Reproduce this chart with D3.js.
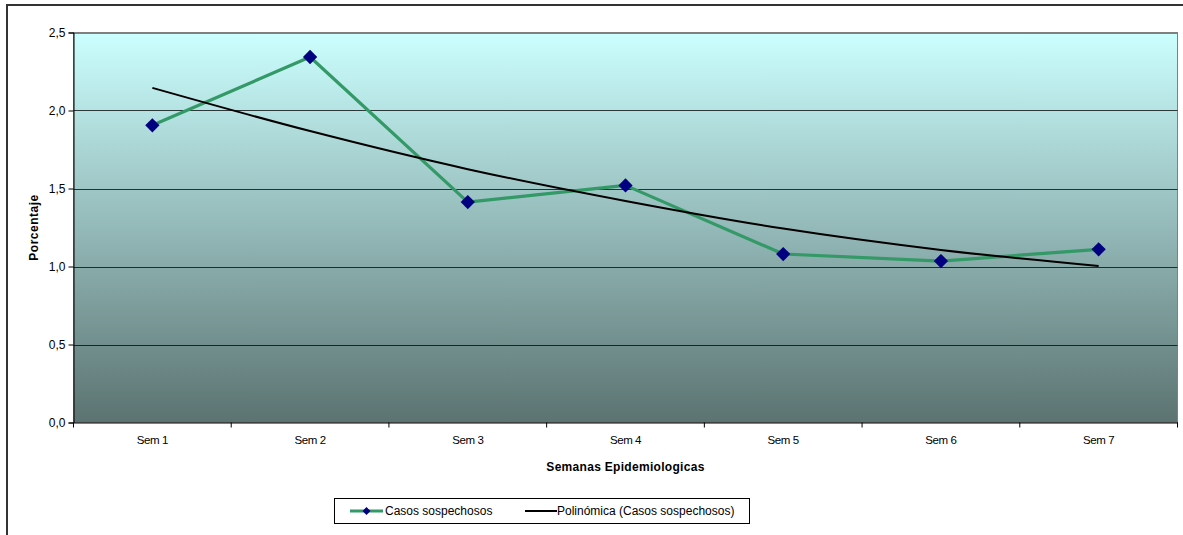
<!DOCTYPE html>
<html>
<head>
<meta charset="utf-8">
<script src="https://cdn.jsdelivr.net/npm/d3@7"></script>
<style>
  html, body { margin: 0; padding: 0; background: #fff; }
  svg { display: block; font-family: "Liberation Sans", Arial, sans-serif; }
</style>
</head>
<body>
<div id="chart"></div>
<script>
// datos del gráfico
const semanas = ['Sem 1', 'Sem 2', 'Sem 3', 'Sem 4', 'Sem 5', 'Sem 6', 'Sem 7'];
const casosSospechosos = [1.905, 2.343, 1.413, 1.520, 1.080, 1.035, 1.110];
// tendencia polinómica
const polinomica = [2.145, 1.868, 1.624, 1.420, 1.243, 1.106, 1.003];
const yTicks = [0, 0.5, 1.0, 1.5, 2.0, 2.5];

const width = 1183;
const height = 535;
const margin = { left: 73.5, top: 32.5, right: 1177.5, bottom: 422.5 };

const svg = d3.select('#chart')
    .append('svg')
    .attr('width', width)
    .attr('height', height);

// marco exterior
svg.append('rect')
    .attr('x', 7)
    .attr('y', 5)
    .attr('width', 1200)
    .attr('height', 600)
    .attr('fill', 'none')
    .attr('stroke', '#333')
    .attr('stroke-width', 2);

const defs = svg.append('defs');
const grad = defs.append('linearGradient')
    .attr('id', 'fondo')
    .attr('x1', 0).attr('y1', 0)
    .attr('x2', 0).attr('y2', 1);
grad.append('stop').attr('offset', '0%').attr('stop-color', '#ccffff');
grad.append('stop').attr('offset', '100%').attr('stop-color', '#5b7371');

const x = d3.scaleBand()
    .domain(semanas)
    .range([margin.left, margin.right]);

const y = d3.scaleLinear()
    .domain([0, 2.5])
    .range([margin.bottom, margin.top]);

// área de trazado
svg.append('rect')
    .attr('x', margin.left)
    .attr('y', margin.top)
    .attr('width', margin.right - margin.left)
    .attr('height', margin.bottom - margin.top)
    .attr('fill', 'url(#fondo)')
    .attr('stroke', '#808080')
    .attr('stroke-width', 1);

// líneas de la cuadrícula
svg.append('g')
    .selectAll('line')
    .data(yTicks.filter(d => d > 0))
    .enter()
    .append('line')
    .attr('x1', margin.left)
    .attr('x2', margin.right)
    .attr('y1', d => Math.round(y(d)) + 0.5)
    .attr('y2', d => Math.round(y(d)) + 0.5)
    .attr('stroke', d => d === 2.5 ? '#808080' : '#000')
    .attr('stroke-opacity', d => d === 2.5 ? 1 : 0.75)
    .attr('stroke-width', 1);

// eje Y
const yAxis = svg.append('g')
    .attr('transform', `translate(${margin.left},0)`)
    .call(d3.axisLeft(y)
        .tickValues(yTicks)
        .tickSize(5)
        .tickFormat(d => d3.format('.1f')(d).replace('.', ',')));
yAxis.select('.domain').attr('stroke', '#000');
yAxis.selectAll('.tick line').attr('stroke', '#000');
yAxis.selectAll('.tick text')
    .attr('x', -8)
    .attr('font-size', 12)
    .attr('font-family', '"Liberation Sans", Arial, sans-serif')
    .attr('fill', '#000');

// eje X
const xAxis = svg.append('g')
    .attr('transform', `translate(0,${margin.bottom})`)
    .call(d3.axisBottom(x).tickSize(0).tickPadding(13));
xAxis.select('.domain').attr('stroke', '#000');
xAxis.selectAll('.tick text')
    .attr('font-size', 11.5)
    .attr('font-family', '"Liberation Sans", Arial, sans-serif')
    .attr('letter-spacing', -0.4)
    .attr('fill', '#000');

// marcas entre categorías
svg.append('g')
    .selectAll('line')
    .data(semanas.concat(['fin']))
    .enter()
    .append('line')
    .attr('x1', (d, i) => margin.left + i * x.step())
    .attr('x2', (d, i) => margin.left + i * x.step())
    .attr('y1', margin.bottom)
    .attr('y2', margin.bottom + 5)
    .attr('stroke', '#000');

// títulos de los ejes
svg.append('text')
    .attr('x', (margin.left + margin.right) / 2)
    .attr('y', 471)
    .attr('text-anchor', 'middle')
    .attr('font-size', 12)
    .attr('font-weight', 'bold')
    .attr('letter-spacing', 0.3)
    .text('Semanas Epidemiologicas');

svg.append('text')
    .attr('transform', `translate(38,${(margin.top + margin.bottom) / 2}) rotate(-90)`)
    .attr('text-anchor', 'middle')
    .attr('font-size', 12)
    .attr('font-weight', 'bold')
    .attr('letter-spacing', 0.5)
    .text('Porcentaje');

const cx = d => x(d) + x.bandwidth() / 2;

// línea de tendencia
const lineaTendencia = d3.line()
    .x((d, i) => cx(semanas[i]))
    .y(d => y(d))
    .curve(d3.curveMonotoneX);

// serie de casos
const lineaCasos = d3.line()
    .x((d, i) => cx(semanas[i]))
    .y(d => y(d));

svg.append('path')
    .datum(casosSospechosos)
    .attr('d', lineaCasos)
    .attr('fill', 'none')
    .attr('stroke', '#339966')
    .attr('stroke-width', 3.2)
    .attr('stroke-linejoin', 'round');

svg.append('path')
    .datum(polinomica)
    .attr('d', lineaTendencia)
    .attr('fill', 'none')
    .attr('stroke', '#000')
    .attr('stroke-width', 2);

const diamante = d3.symbol().type(d3.symbolDiamond2).size(130);

svg.append('g')
    .selectAll('path')
    .data(casosSospechosos)
    .enter()
    .append('path')
    .attr('d', diamante)
    .attr('transform', (d, i) => `translate(${cx(semanas[i])},${y(d)})`)
    .attr('fill', '#000080');

// leyenda
const leyenda = svg.append('g');
leyenda.append('rect')
    .attr('x', 334.5)
    .attr('y', 498.5)
    .attr('width', 415)
    .attr('height', 25)
    .attr('fill', '#fff')
    .attr('stroke', '#000');

leyenda.append('line')
    .attr('x1', 350).attr('x2', 383)
    .attr('y1', 511).attr('y2', 511)
    .attr('stroke', '#339966')
    .attr('stroke-width', 3);
leyenda.append('path')
    .attr('d', d3.symbol().type(d3.symbolDiamond2).size(40))
    .attr('transform', 'translate(366.5,511)')
    .attr('fill', '#000080');
leyenda.append('text')
    .attr('x', 385)
    .attr('y', 515)
    .attr('font-size', 12)
    .text('Casos sospechosos');

leyenda.append('line')
    .attr('x1', 525).attr('x2', 557)
    .attr('y1', 511).attr('y2', 511)
    .attr('stroke', '#000')
    .attr('stroke-width', 2);
leyenda.append('text')
    .attr('x', 557)
    .attr('y', 515)
    .attr('font-size', 12)
    .text('Polinómica (Casos sospechosos)');
</script>
</body>
</html>
